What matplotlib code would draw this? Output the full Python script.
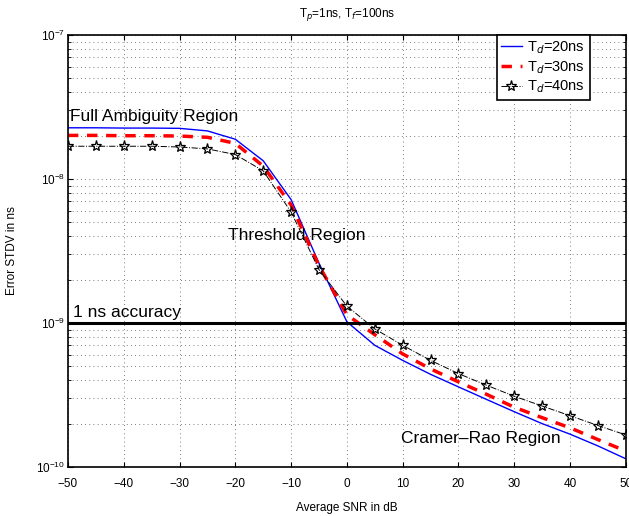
import numpy as np
import matplotlib.pyplot as plt
from matplotlib.ticker import LogLocator, NullFormatter

plt.rcParams['font.family'] = ['Liberation Sans', 'DejaVu Sans']
plt.rcParams['mathtext.fontset'] = 'custom'
plt.rcParams['mathtext.rm'] = 'Liberation Sans'

snr = [-50, -45, -40, -35, -30, -25, -20, -15, -10, -5, 0, 5, 10, 15, 20, 25, 30, 35, 40, 45, 50]
td20 = [2.27e-8, 2.27e-8, 2.26e-8, 2.26e-8, 2.25e-8, 2.16e-8, 1.89e-8, 1.34e-8, 7.2e-9, 2.6e-9, 1.02e-9,
        7.0e-10, 5.5e-10, 4.4e-10, 3.6e-10, 2.95e-10, 2.42e-10, 2.0e-10, 1.69e-10, 1.4e-10, 1.14e-10]
td30 = [2.01e-8, 2.01e-8, 2.0e-8, 2.0e-8, 1.99e-8, 1.95e-8, 1.77e-8, 1.23e-8, 6.6e-9, 2.5e-9, 1.14e-9,
        8.3e-10, 6.1e-10, 4.8e-10, 3.9e-10, 3.2e-10, 2.6e-10, 2.2e-10, 1.87e-10, 1.55e-10, 1.29e-10]
td40 = [1.69e-8, 1.69e-8, 1.69e-8, 1.69e-8, 1.67e-8, 1.62e-8, 1.48e-8, 1.14e-8, 5.9e-9, 2.35e-9, 1.31e-9,
        9.1e-10, 7.0e-10, 5.5e-10, 4.45e-10, 3.7e-10, 3.1e-10, 2.65e-10, 2.27e-10, 1.94e-10, 1.67e-10]

fig = plt.figure(figsize=(6.29, 5.16), dpi=100)
ax = fig.add_axes([0.108, 0.095, 0.887, 0.837])

ax.semilogy(snr, td20, color='blue', lw=1.0, label='T$_{d}$=20ns')
ax.semilogy(snr, td30, color='red', lw=2.5, ls=(0, (3, 2.5)), label='T$_{d}$=30ns')
ax.semilogy(snr, td40, color='black', lw=0.7, ls='-.', marker='*', markersize=8,
            markerfacecolor='none', markeredgecolor='black', markeredgewidth=0.9, label='T$_{d}$=40ns')
ax.axhline(1e-9, color='black', lw=2.2)

ax.set_xlim(-50, 50)
ax.set_ylim(1e-10, 1e-7)
ax.set_xticks(np.arange(-50, 51, 10))
ax.yaxis.set_minor_locator(LogLocator(base=10, subs=np.arange(2, 10), numticks=20))
ax.yaxis.set_minor_formatter(NullFormatter())
ax.grid(True, which='major', ls=(0, (1, 4)), color='#555555', lw=0.6)
ax.grid(True, which='minor', axis='y', ls=(0, (1, 4)), color='#555555', lw=0.6)
ax.tick_params(which='both', direction='in', labelsize=8.5, top=True, right=True)
ax.tick_params(axis='x', pad=8)
ax.tick_params(axis='y', pad=2)
for s in ax.spines.values():
    s.set_linewidth(1.2)

ax.text(-49.6, 2.53e-8, 'Full Ambiguity Region', fontsize=12.5)
ax.text(-21.3, 3.77e-9, 'Threshold Region', fontsize=12.5)
ax.text(-49.1, 1.1e-9, '1 ns accuracy', fontsize=12.5)
ax.text(9.7, 1.47e-10, 'Cramer\u2013Rao Region', fontsize=12.5)

ax.set_xlabel('Average SNR in dB', fontsize=8.5)
ax.set_ylabel('Error STDV in ns', fontsize=8.5)
ax.xaxis.set_label_coords(0.5, -0.08)
ax.yaxis.set_label_coords(-0.09, 0.5)
ax.set_title('T$_{p}$=1ns, T$_{f}$=100ns', fontsize=8.5, pad=13)

leg = ax.legend(loc='upper right', bbox_to_anchor=(0.935, 1.0), fontsize=10.5, fancybox=False,
                edgecolor='black', framealpha=1, borderaxespad=0, handlelength=1.4,
                handletextpad=0.4, labelspacing=0.2, borderpad=0.3)
leg.get_frame().set_linewidth(1.2)

fig.savefig('out.png', dpi=100)
